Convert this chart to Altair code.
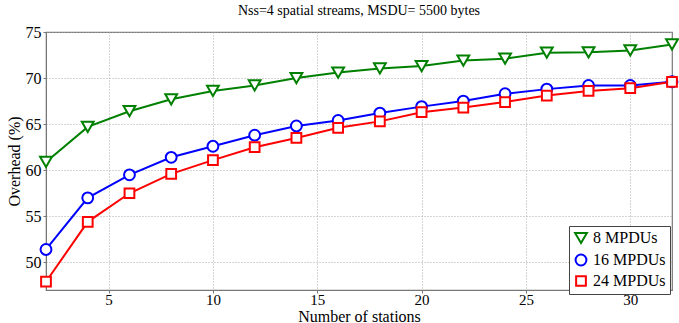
import altair as alt
import pandas as pd

stations = [2, 4, 6, 8, 10, 12, 14, 16, 18, 20, 22, 24, 26, 28, 30, 32]
mpdu8 = [60.9, 64.7, 66.4, 67.7, 68.6, 69.2, 70.0, 70.6, 71.05, 71.3, 71.9, 72.1, 72.75, 72.8, 73.0, 73.65]
mpdu16 = [51.4, 57.0, 59.5, 61.4, 62.6, 63.8, 64.8, 65.4, 66.2, 66.9, 67.5, 68.3, 68.8, 69.2, 69.2, 69.6]
mpdu24 = [47.9, 54.4, 57.5, 59.6, 61.1, 62.5, 63.5, 64.6, 65.3, 66.3, 66.8, 67.4, 68.1, 68.6, 68.9, 69.6]
series = ["8 MPDUs", "16 MPDUs", "24 MPDUs"]
colors = ["#008000", "#0000ff", "#ff0000"]
shapes = ["triangle-down", "circle", "square"]
sizes = [140, 95, 85]

rows = []
for name, vals in zip(series, [mpdu8, mpdu16, mpdu24]):
    for s, v in zip(stations, vals):
        rows.append({"stations": s, "overhead": v, "series": name})
df = pd.DataFrame(rows)

FONT = "Liberation Serif"

x = alt.X("stations:Q", scale=alt.Scale(domain=[2, 32], nice=False),
          axis=alt.Axis(values=[5, 10, 15, 20, 25, 30], title="Number of stations",
                        titleY=31, titleBaseline="alphabetic", labelPadding=-1,
                        labelFontSize=15, titleFontSize=16))
y = alt.Y("overhead:Q", scale=alt.Scale(domain=[47, 75], nice=False, zero=False),
          axis=alt.Axis(values=[50, 55, 60, 65, 70, 75], title="Overhead (%)",
                        titlePadding=3, labelPadding=2))
leg = alt.Legend(title=None, orient="none", legendX=523, legendY=194)
color = alt.Color("series:N", scale=alt.Scale(domain=series, range=colors), legend=leg)
shape = alt.Shape("series:N", scale=alt.Scale(domain=series, range=shapes), legend=leg)
size = alt.Size("series:N", scale=alt.Scale(domain=series, range=sizes), legend=None)

lines = alt.Chart(df).mark_line(strokeWidth=2).encode(
    x=x, y=y, color=color, detail="series:N")
points = alt.Chart(df).mark_point(filled=False, fill="white", fillOpacity=1, strokeWidth=2, opacity=1).encode(
    x=x, y=y, color=color, shape=shape, size=size)

chart = (lines + points).properties(
    width=626, height=258,
    title=alt.Title("Nss=4 spatial streams, MSDU= 5500 bytes", fontSize=14, font=FONT,
                    fontWeight="normal", color="#000", offset=6),
    autosize=alt.AutoSizeParams(type="none"),
    padding={"left": 46, "top": 32, "right": 7, "bottom": 33},
).configure_view(stroke="#777", strokeWidth=1.2).configure_axis(
    labelFont=FONT, titleFont=FONT, labelFontSize=16, titleFontSize=16,
    labelColor="#000", titleColor="#000", titleFontWeight="normal",
    domainColor="#777", tickColor="#777", tickSize=3,
    grid=True, gridColor="#aaa", gridDash=[1, 2], gridWidth=1,
).configure_legend(
    labelFont=FONT, labelFontSize=16, labelColor="#000",
    fillColor="white", strokeColor="#444", padding=4, rowPadding=2,
    symbolSize=90, symbolStrokeWidth=2, symbolFillColor="white",
).configure_title(anchor="middle")

chart.save("out.html", embed_options={"renderer": "svg", "actions": False})
